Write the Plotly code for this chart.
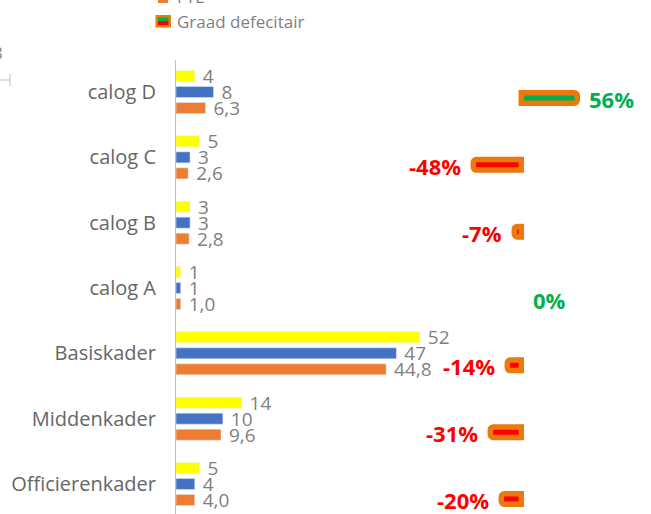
import plotly.graph_objects as go

# ---------------- data ----------------
categories = ["Officierenkader", "Middenkader", "Basiskader", "calog A", "calog B", "calog C", "calog D"]
formatie = [5, 14, 52, 1, 3, 5, 4]          # yellow
bezetting = [4, 10, 47, 1, 3, 3, 8]         # blue
fte = [4.0, 9.6, 44.8, 1.0, 2.8, 2.6, 6.3]  # orange
graad_defecitair = [-20, -31, -14, 0, -7, -48, 56]  # percent

# ---------------- geometry (page pixels) ----------------
W, H = 651, 514
AX_X, AX_TOP = 176, 60
L, T, R, B = AX_X, AX_TOP, 0, 0
PW, PH = W - L - R, H - T - B

def px_x(x):  # page px -> paper
    return (x - AX_X) / PW

def px_y(y):
    return 1 + (AX_TOP - y) / PH

GRAY_TXT = "#7F7F7F"
CAT_TXT = "#666666"
YELLOW = "#FFFF00"
BLUE = "#4472C4"
ORANGE = "#ED7D31"
BORDER = "#EA7A0E"
GREEN = "#00B050"
RED = "#FF0000"
FONT = "Open Sans"

fig = go.Figure()

label_font = dict(family=FONT, size=19, color=GRAY_TXT)
common = dict(orientation="h", textposition="outside", textangle=0,
              constraintext="none", cliponaxis=False, textfont=label_font,
              hoverinfo="skip")

fig.add_trace(go.Bar(name="FTE", y=categories, x=fte, marker_color=ORANGE,
                     texttemplate="\u00a0%{x:.1f}", **common))
fig.add_trace(go.Bar(name="Bezetting", y=categories, x=bezetting, marker_color=BLUE,
                     texttemplate="\u00a0%{x}", **common))
fig.add_trace(go.Bar(name="Formatie", y=categories, x=formatie, marker_color=YELLOW,
                     texttemplate="\u00a0%{x}", **common))

pos2 = list(range(len(categories)))
fig.add_trace(go.Bar(
    name="Graad defecitair", orientation="h", x=graad_defecitair, y=pos2,
    xaxis="x2", yaxis="y2", width=0.157,
    marker=dict(color=[GREEN if v >= 0 else RED for v in graad_defecitair],
                line=dict(color=BORDER, width=[0 if v == 0 else 5.5 for v in graad_defecitair]),
                cornerradius=3),
    hoverinfo="skip", cliponaxis=False))

annotations = []
for j, v in enumerate(graad_defecitair):
    annotations.append(dict(
        x=v, y=j, xref="x2", yref="y2", text=f"{v}%", showarrow=False,
        xanchor="left" if v >= 0 else "right", yanchor="middle",
        xshift=10 if v >= 0 else -10, yshift=-1,
        font=dict(family=FONT, size=22, color=GREEN if v >= 0 else RED, weight=700)))

# partial legend (cut off at top of picture)
annotations.append(dict(x=px_x(175), y=px_y(21), xref="paper", yref="paper",
                        text="Graad defecitair", showarrow=False, xanchor="left",
                        yanchor="middle", font=dict(family=FONT, size=17, color=GRAY_TXT)))
annotations.append(dict(x=px_x(175), y=px_y(-3), xref="paper", yref="paper",
                        text="FTE", showarrow=False, xanchor="left",
                        yanchor="middle", font=dict(family=FONT, size=17, color=GRAY_TXT)))
annotations.append(dict(x=px_x(5), y=px_y(52), xref="paper", yref="paper",
                        text="8", showarrow=False, xanchor="right",
                        yanchor="middle", font=dict(family=FONT, size=17, color=GRAY_TXT)))

def rect(x0, y0, x1, y1, color):
    return dict(type="rect", xref="paper", yref="paper", x0=px_x(x0), x1=px_x(x1),
                y0=px_y(y0), y1=px_y(y1), fillcolor=color, line=dict(width=0), layer="above")

def line(x0, y0, x1, y1, color):
    return dict(type="line", xref="paper", yref="paper", x0=px_x(x0), x1=px_x(x1),
                y0=px_y(y0), y1=px_y(y1), line=dict(color=color, width=1), layer="above")

shapes = [
    rect(158, -8, 168, 3, ORANGE),
    rect(155.5, 15, 171, 27.5, BORDER),
    rect(158, 17.5, 168.5, 21.2, GREEN),
    rect(158, 21.2, 168.5, 25, RED),
    line(0, 80, 10, 80, "#BFBFBF"),
    line(10, 74, 10, 86, "#BFBFBF"),
]

# axis ranges derived from pixel geometry (page px)
xr1 = [0, PW / 4.69]
zero2, s2 = 521.3 - AX_X, 1.0
xr2 = [-zero2 / s2, (PW - zero2) / s2]
PAGE_BOTTOM = AX_TOP + PH
pitch1, c1 = 65.33, 484
yr1 = [(c1 - PAGE_BOTTOM) / pitch1, (c1 - AX_TOP) / pitch1]
pitch2, c2 = 66.83, 499
yr2 = [(c2 - PAGE_BOTTOM) / pitch2, (c2 - AX_TOP) / pitch2]

fig.update_layout(
    width=W, height=H, margin=dict(l=L, r=R, t=T, b=B, autoexpand=False),
    paper_bgcolor="white", plot_bgcolor="white",
    barmode="group", bargap=0.265, bargroupgap=0.31,
    separators=",.", showlegend=False,
    xaxis=dict(range=xr1, visible=False, fixedrange=True),
    yaxis=dict(type="category", range=yr1, showline=True, linecolor="#BFBFBF",
               linewidth=1, showgrid=False, ticks="", ticklabelstandoff=15,
               tickfont=dict(family=FONT, size=20, color=CAT_TXT), fixedrange=True),
    xaxis2=dict(range=xr2, overlaying="x", anchor="y2", visible=False, fixedrange=True),
    yaxis2=dict(range=yr2, overlaying="y", anchor="x2", visible=False, fixedrange=True),
    annotations=annotations, shapes=shapes,
)

fig.write_html("out.html", config={"displayModeBar": False},
               post_script="document.body.style.margin='0';document.body.style.overflow='hidden';")
